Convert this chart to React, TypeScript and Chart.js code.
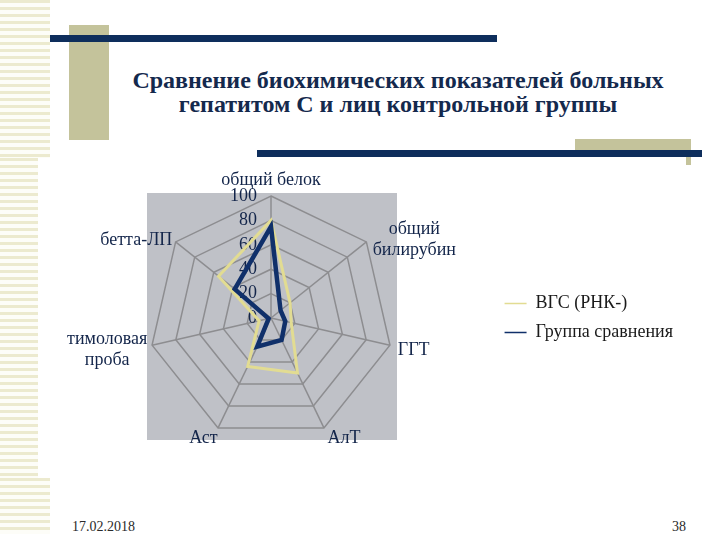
import React, { useEffect, useRef } from "react";
import { Chart, registerables } from "chart.js";

Chart.register(...registerables);

const SERIF = '"Liberation Serif", "Times New Roman", Times, serif';

const categories: (string | string[])[] = [
  "общий белок",
  ["общий", "билирубин"],
  "ГГТ",
  "АлТ",
  "Аст",
  ["тимоловая", "проба"],
  "бетта-ЛП",
];
const seriesNames = ["ВГС (РНК-)", "Группа сравнения"];
const vgsValues = [80, 20, 17, 50, 44, 10, 55];
const controlValues = [75, 10, 12, 20, 26, 2, 38];
const tickMin = 0;
const tickMax = 100;
const tickStep = 20;

const titleLines = [
  "Сравнение биохимических показателей больных",
  "гепатитом С и лиц контрольной группы",
];
const footerDate = "17.02.2018";
const footerPage = "38";

const decorPlugin = {
  id: "slideRadarDecor",
  beforeDraw(chart: any) {
    const s = chart.scales.r;
    const ctx = chart.ctx;
    ctx.save();
    ctx.fillStyle = "#BFC1C7";
    ctx.fillRect(s.xCenter - 124, s.yCenter - 125, 250, 247);
    ctx.restore();
  },
  beforeDatasetsDraw(chart: any) {
    const s = chart.scales.r;
    const ctx = chart.ctx;
    ctx.save();
    ctx.font = `18px ${SERIF}`;
    ctx.fillStyle = "#13254A";
    ctx.textAlign = "right";
    ctx.textBaseline = "middle";
    s.ticks.forEach((t: any) => {
      const d = s.getDistanceFromCenterForValue(t.value);
      ctx.fillText(String(t.value), s.xCenter - 14, s.yCenter - d);
    });

    const lineH = 21;
    ctx.textAlign = "center";
    (chart.data.labels as any[]).forEach((lab, i) => {
      const lines: string[] = Array.isArray(lab) ? lab : [lab];
      const dist = s.drawingArea + 8;
      const p = s.getPointPosition(i, dist);
      const sx = (p.x - s.xCenter) / dist;
      const cy = (s.yCenter - p.y) / dist;
      const w = Math.max(...lines.map((l) => ctx.measureText(l).width));
      const h = lines.length * lineH;
      let left: number;
      let top: number;
      if (Math.abs(sx) < 0.1) {
        left = p.x - w / 2;
        top = cy > 0 ? p.y - h + 3 : p.y;
      } else if (sx > 0) {
        left = p.x;
        top = p.y - h / 2 + 3;
      } else {
        left = p.x - w + 3;
        top = p.y - h / 2 + 3;
      }
      lines.forEach((l, k) => {
        ctx.fillText(l, left + w / 2, top + lineH * (k + 0.5));
      });
    });
    ctx.restore();
  },
};

function RadarChart() {
  const ref = useRef<HTMLCanvasElement | null>(null);
  useEffect(() => {
    if (!ref.current) return;
    const chart = new Chart(ref.current, {
      type: "radar",
      data: {
        labels: categories,
        datasets: [
          {
            label: seriesNames[0],
            data: vgsValues,
            borderColor: "#E2DC92",
            backgroundColor: "transparent",
            borderWidth: 3,
            fill: false,
            pointRadius: 0,
            pointHoverRadius: 0,
            order: 1,
          },
          {
            label: seriesNames[1],
            data: controlValues,
            borderColor: "#10306A",
            backgroundColor: "transparent",
            borderWidth: 4.5,
            fill: false,
            pointRadius: 0,
            pointHoverRadius: 0,
            order: 0,
          },
        ],
      },
      options: {
        responsive: false,
        animation: false,
        devicePixelRatio: 1,
        layout: { padding: { left: 49, right: 37, top: 46, bottom: 50 } },
        scales: {
          r: {
            min: tickMin,
            max: tickMax,
            ticks: { display: false, stepSize: tickStep },
            grid: { color: "#8D8D90", lineWidth: 1.5 },
            angleLines: { color: "#8D8D90", lineWidth: 1.5 },
            pointLabels: { display: false },
          },
        },
        plugins: {
          tooltip: { enabled: false },
          legend: {
            position: "right",
            align: "center",
            labels: {
              usePointStyle: true,
              pointStyle: "line",
              pointStyleWidth: 22,
              padding: 11,
              color: "#1A1A1A",
              font: { size: 18, family: SERIF },
              sort: (a: any, b: any) => a.datasetIndex - b.datasetIndex,
              generateLabels: (c: any) =>
                (Chart.defaults.plugins.legend.labels.generateLabels as any)(c).map((l: any) => ({
                  ...l,
                  lineWidth: 1.5,
                })),
            },
          },
        },
      } as any,
      plugins: [decorPlugin],
    });
    return () => chart.destroy();
  }, []);
  return (
    <canvas
      ref={ref}
      width={720}
      height={340}
      style={{ position: "absolute", left: 0, top: 150, width: 720, height: 340 }}
    />
  );
}

export default function App() {
  const stripe = "repeating-linear-gradient(to bottom, #ECEACF 0px, #ECEACF 3px, #FDFDF8 3px, #FDFDF8 7px)";
  return (
    <div
      style={{
        position: "absolute",
        left: 0,
        top: 0,
        width: 720,
        height: 540,
        background: "#FFFFFF",
        overflow: "hidden",
        fontFamily: SERIF,
      }}
    >
      <div style={{ position: "absolute", left: 0, top: 0, width: 50, height: 158, background: stripe }} />
      <div style={{ position: "absolute", left: 0, top: 158, width: 38, height: 320, background: stripe }} />
      <div style={{ position: "absolute", left: 0, top: 478, width: 50, height: 56, background: stripe }} />
      <div style={{ position: "absolute", left: 69, top: 25, width: 40, height: 115, background: "#C4C39B" }} />
      <div style={{ position: "absolute", left: 50, top: 35, width: 447, height: 7, background: "#0E2E5C" }} />
      <div style={{ position: "absolute", left: 575, top: 139, width: 116, height: 12, background: "#C4C39B" }} />
      <div style={{ position: "absolute", left: 257, top: 150, width: 445, height: 7, background: "#0E2E5C" }} />
      <div style={{ position: "absolute", left: 686, top: 157, width: 5, height: 8, background: "#C4C39B" }} />
      <div
        style={{
          position: "absolute",
          left: 98,
          top: 68,
          width: 600,
          textAlign: "center",
          fontWeight: "bold",
          fontSize: 24,
          lineHeight: "24px",
          color: "#14294D",
        }}
      >
        {titleLines.map((t, i) => (
          <div key={i}>{t}</div>
        ))}
      </div>
      <RadarChart />
      <div
        style={{
          position: "absolute",
          left: 72,
          top: 519,
          fontSize: 14,
          lineHeight: "16px",
          color: "#2A2A2A",
        }}
      >
        {footerDate}
      </div>
      <div
        style={{
          position: "absolute",
          right: 34,
          top: 519,
          fontSize: 14,
          lineHeight: "16px",
          color: "#2A2A2A",
          textAlign: "right",
        }}
      >
        {footerPage}
      </div>
    </div>
  );
}
